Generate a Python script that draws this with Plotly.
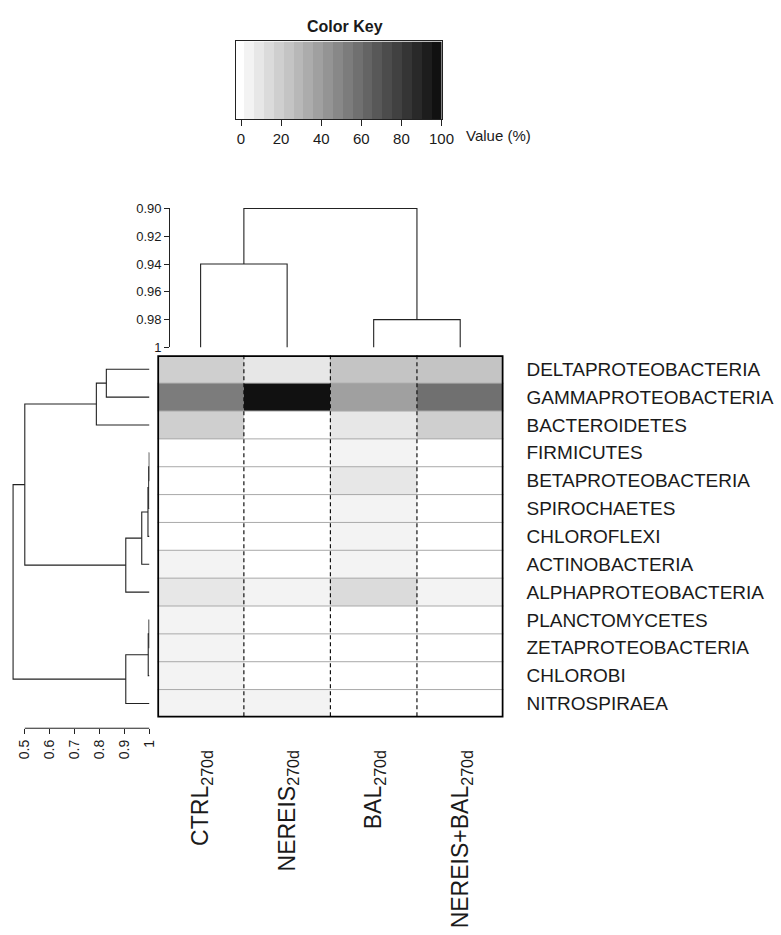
import plotly.graph_objects as go

W, H = 781, 935
FONT = "Liberation Sans, Arial, sans-serif"
INK = "#1a1a1a"

# ---- data -------------------------------------------------------------
samples = ["CTRL", "NEREIS", "BAL", "NEREIS+BAL"]
sample_labels = ["CTRL<sub>270d</sub>", "NEREIS<sub>270d</sub>",
                 "BAL<sub>270d</sub>", "NEREIS+BAL<sub>270d</sub>"]
taxa = ["DELTAPROTEOBACTERIA", "GAMMAPROTEOBACTERIA", "BACTEROIDETES",
        "FIRMICUTES", "BETAPROTEOBACTERIA", "SPIROCHAETES", "CHLOROFLEXI",
        "ACTINOBACTERIA", "ALPHAPROTEOBACTERIA", "PLANCTOMYCETES",
        "ZETAPROTEOBACTERIA", "CHLOROBI", "NITROSPIRAEA"]

# relative abundance (%) per sample, in taxa order
ctrl_270d = [17, 52, 17, 0, 0, 0, 0, 4, 9, 4, 4, 4, 4]
nereis_270d = [9, 98, 0, 0, 0, 0, 0, 0, 4, 0, 0, 0, 4]
bal_270d = [24, 39, 9, 4, 9, 4, 4, 4, 14, 0, 0, 0, 0]
nereis_bal_270d = [24, 60, 18, 0, 0, 0, 0, 0, 4, 0, 0, 0, 0]

# hierarchical clustering (similarity) : (child a, child b, merge height)
# leaves are 0..n-1, merge i creates node n+i
col_merges = [(0, 1, 0.94), (2, 3, 0.98), (4, 5, 0.90)]
row_merges = [(0, 1, 0.827), (13, 2, 0.787), (3, 4, 0.999), (15, 5, 0.997),
              (16, 6, 0.994), (17, 7, 0.969), (18, 8, 0.905), (14, 19, 0.5),
              (9, 10, 0.998), (21, 11, 0.995), (22, 12, 0.905), (20, 23, 0.453)]

col_dendro_ticks = [0.90, 0.92, 0.94, 0.96, 0.98, 1.0]
col_dendro_ticktext = ["0.90", "0.92", "0.94", "0.96", "0.98", "1"]
row_dendro_ticks = [0.5, 0.6, 0.7, 0.8, 0.9, 1.0]
row_dendro_ticktext = ["0.5", "0.6", "0.7", "0.8", "0.9", "1"]
key_ticks = [0, 20, 40, 60, 80, 100]

# ---- grey colour key: 21 bands from white to near black -----------------
KEY_MIN, KEY_MAX = -2.5, 100.0
key_breaks = [KEY_MIN] + [1.6 + 4.92 * k for k in range(20)] + [KEY_MAX]
n_bands = len(key_breaks) - 1
greys = []
for k in range(n_bands):
    g = round(255 - k * (255 - 17) / (n_bands - 1))
    greys.append(f"rgb({g},{g},{g})")
colorscale = []
for k in range(n_bands):
    lo = (key_breaks[k] - KEY_MIN) / (KEY_MAX - KEY_MIN)
    hi = (key_breaks[k + 1] - KEY_MIN) / (KEY_MAX - KEY_MIN)
    colorscale.append([lo, greys[k]])
    colorscale.append([hi, greys[k]])
key_mids = [(key_breaks[k] + key_breaks[k + 1]) / 2 for k in range(n_bands)]


def px_x(p):
    return p / W


def px_y(p):
    return 1 - p / H


def dendro_segments(merges, n_leaves, base):
    pos = {i: float(i) for i in range(n_leaves)}
    hgt = {i: base for i in range(n_leaves)}
    P, Hs = [], []
    for i, (a, b, h) in enumerate(merges):
        P += [pos[a], pos[a], pos[b], pos[b], None]
        Hs += [hgt[a], h, h, hgt[b], None]
        pos[n_leaves + i] = (pos[a] + pos[b]) / 2
        hgt[n_leaves + i] = h
    return P, Hs


# ---- figure -----------------------------------------------------------
z = [[ctrl_270d[i], nereis_270d[i], bal_270d[i], nereis_bal_270d[i]]
     for i in range(len(taxa))]

fig = go.Figure()

fig.add_trace(go.Heatmap(
    z=z, x=list(range(len(samples))), y=list(range(len(taxa))),
    colorscale=colorscale, zmin=KEY_MIN, zmax=KEY_MAX, showscale=False,
    xaxis="x", yaxis="y", hoverinfo="skip"))

# column dendrogram
cp, ch = dendro_segments(col_merges, len(samples), 1.0)
fig.add_trace(go.Scatter(x=cp, y=ch, mode="lines",
                         line=dict(color="#222", width=1.1),
                         xaxis="x2", yaxis="y2", hoverinfo="skip",
                         showlegend=False))

# row dendrogram
rp, rh = dendro_segments(row_merges, len(taxa), 1.0)
fig.add_trace(go.Scatter(x=rh, y=rp, mode="lines",
                         line=dict(color="#222", width=1.1),
                         xaxis="x3", yaxis="y3", hoverinfo="skip",
                         showlegend=False))

# colour key
fig.add_trace(go.Heatmap(
    z=[key_mids], x=key_breaks, y=[0, 1],
    colorscale=colorscale, zmin=KEY_MIN, zmax=KEY_MAX, showscale=False,
    xaxis="x4", yaxis="y4", hoverinfo="skip"))

hm_x = [px_x(160), px_x(512)]
hm_y = [px_y(722), px_y(354)]
grid_range_x = [-0.5, len(samples) - 0.5]
grid_range_y = [len(taxa) - 0.5, -0.5]

fig.update_layout(
    width=W, height=H,
    margin=dict(l=0, r=0, t=0, b=0),
    paper_bgcolor="white", plot_bgcolor="white",
    showlegend=False,
    font=dict(family=FONT, color=INK),
    xaxis=dict(domain=hm_x, range=grid_range_x, anchor="y",
               tickvals=list(range(len(samples))), ticktext=sample_labels,
               tickangle=-90, ticks="", ticklabelstandoff=27,
               tickfont=dict(size=23, family=FONT, color=INK),
               showgrid=False, zeroline=False, showline=False),
    yaxis=dict(domain=hm_y, range=grid_range_y, anchor="x", side="right",
               tickvals=list(range(len(taxa))), ticktext=taxa,
               ticks="", ticklabelstandoff=22,
               tickfont=dict(size=19, family=FONT, color=INK),
               showgrid=False, zeroline=False, showline=False),
    xaxis2=dict(domain=hm_x, range=grid_range_x, anchor="y2",
                visible=False, showgrid=False, zeroline=False),
    yaxis2=dict(domain=[px_y(346), px_y(204)], range=[1.0, 0.8995],
                anchor="free", position=px_x(172), side="left",
                tickvals=col_dendro_ticks, ticktext=col_dendro_ticktext,
                ticks="outside", ticklen=5, tickwidth=1, tickcolor="#222",
                showline=True, linecolor="#222", linewidth=1,
                tickfont=dict(size=13, family=FONT, color=INK),
                showgrid=False, zeroline=False),
    xaxis3=dict(domain=[px_x(10), px_x(152)], range=[0.44, 1.0],
                anchor="free", position=px_y(733), side="bottom",
                tickvals=row_dendro_ticks, ticktext=row_dendro_ticktext,
                tickangle=-90, ticks="outside", ticklen=5, tickwidth=1,
                tickcolor="#222", showline=False,
                tickfont=dict(size=14, family=FONT, color=INK),
                showgrid=False, zeroline=False),
    yaxis3=dict(domain=hm_y, range=grid_range_y, anchor="x3",
                visible=False, showgrid=False, zeroline=False),
    xaxis4=dict(domain=[px_x(240), px_x(449)], range=[KEY_MIN, KEY_MAX],
                anchor="y4", tickvals=key_ticks, ticks="outside", ticklen=6,
                tickwidth=1, tickcolor="#222",
                showline=True, mirror=True, linecolor="#222", linewidth=1,
                tickfont=dict(size=15, family=FONT, color=INK),
                showgrid=False, zeroline=False),
    yaxis4=dict(domain=[px_y(114), px_y(35)], range=[0, 1], anchor="x4",
                showticklabels=False, ticks="",
                showline=True, mirror=True, linecolor="#222", linewidth=1,
                showgrid=False, zeroline=False),
)

shapes = []
# light row separators
for k in range(len(taxa) - 1):
    shapes.append(dict(type="line", xref="x", yref="y",
                       x0=-0.5, x1=len(samples) - 0.45, y0=k + 0.5, y1=k + 0.5,
                       line=dict(color="#a9a9a9", width=1), layer="above"))
# dashed column separators
for k in range(len(samples) - 1):
    shapes.append(dict(type="line", xref="x", yref="y",
                       x0=k + 0.5, x1=k + 0.5, y0=-0.5, y1=len(taxa) - 0.5,
                       line=dict(color="#111", width=1.2, dash="4px,3px"),
                       layer="above"))
# heavy frame round the heat map
shapes.append(dict(type="rect", xref="x", yref="y",
                   x0=-0.5, x1=len(samples) - 0.5, y0=-0.5, y1=len(taxa) - 0.5,
                   line=dict(color="#000", width=3.5), layer="above"))
# axis line of the row dendrogram scale
shapes.append(dict(type="line", xref="x3", yref="paper",
                   x0=row_dendro_ticks[0], x1=row_dendro_ticks[-1],
                   y0=px_y(733), y1=px_y(733),
                   line=dict(color="#222", width=1)))
fig.update_layout(shapes=shapes)

fig.add_annotation(text="<b>Color Key</b>", xref="paper", yref="paper",
                   x=px_x(351), y=px_y(20), xanchor="center", yanchor="middle",
                   showarrow=False, font=dict(size=16, family=FONT, color=INK))
fig.add_annotation(text="Value (%)", xref="paper", yref="paper",
                   x=px_x(472), y=px_y(131), xanchor="left", yanchor="middle",
                   showarrow=False, font=dict(size=15, family=FONT, color=INK))

fig.write_html("out.html")
